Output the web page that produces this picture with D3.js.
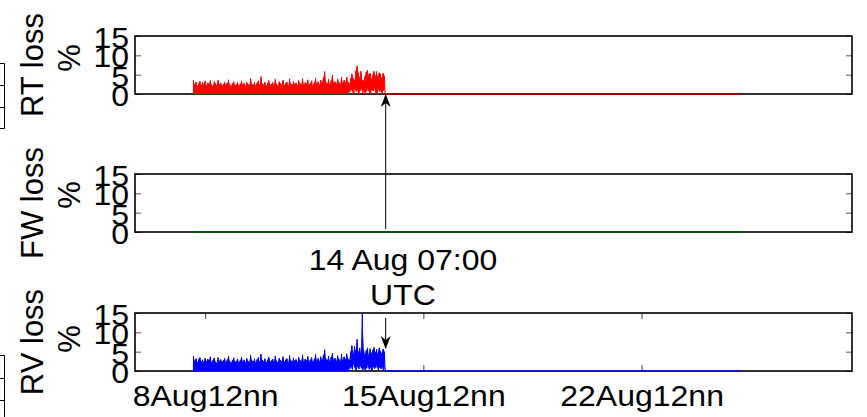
<!DOCTYPE html>
<html>
<head>
<meta charset="utf-8">
<script src="https://cdn.jsdelivr.net/npm/d3@7"></script>
<style>
  body { margin: 0; background: #fff; }
  svg { display: block; font-family: "Liberation Sans", Arial, Helvetica, sans-serif; }
</style>
</head>
<body>
<svg id="chart" width="867" height="417"></svg>
<script>
// hourly samples starting 8 Aug 03:00 UTC, peak (hi) and trough (lo) of each hour, in %
const rtHi = [
  3.6,2.4,3.1,2.0,2.8,3.3,2.2,3.0,2.5,3.4,
  2.1,2.9,2.6,3.5,2.3,2.0,3.2,2.7,2.2,3.6,
  2.4,2.9,2.1,2.6,3.1,2.3,2.8,3.7,2.4,2.0,
  2.7,3.2,2.2,2.5,3.0,2.1,2.6,3.4,2.3,2.8,
  2.0,3.1,2.5,2.2,4.0,2.6,2.3,3.0,2.1,2.9,
  3.4,2.2,4.5,2.7,2.4,3.1,2.0,2.8,3.5,2.3,
  2.6,3.0,2.2,3.8,2.5,2.1,3.2,2.7,2.4,3.6,
  2.2,2.8,3.1,2.0,3.9,2.6,2.3,3.3,2.5,2.9,
  2.1,3.5,2.7,2.4,4.0,2.2,3.0,2.6,3.7,2.3,
  2.8,3.4,2.1,2.9,4.1,2.5,3.2,2.4,3.6,2.7,
  4.2,5.8,3.1,2.6,3.8,2.3,3.5,4.9,2.8,3.2,
  2.5,3.9,3.0,2.4,4.3,2.7,3.6,2.9,4.4,3.1,
  2.6,4.0,5.2,4.1,3.4,6.0,7.3,5.5,4.2,5.9,
  3.6,3.4,4.5,5.7,6.1,4.8,5.4,3.9,5.0,5.9,
  4.6,5.8,4.3,5.5,5.2,4.0,5.4,4.7
];
const rtLo = [
  0,0,0,0,0,0,0,0,0,0, 0,0,0,0,0,0,0,0,0,0,
  0,0,0,0,0,0,0,0,0,0, 0,0,0,0,0,0,0,0,0,0,
  0,0,0,0,0,0,0,0,0,0, 0,0,0,0,0,0,0,0,0,0,
  0,0,0,0,0,0,0,0,0,0, 0,0,0,0,0,0,0,0,0,0,
  0,0,0,0,0,0,0,0,0,0, 0,0,0,0,0,0,0,0,0,0,
  0,0,0,0,0,0,0,0,0,0, 0,0,0,0,0,0,0,0,0,0,
  0.5,1.2,0.8,0,1.5,0.6,1.1,0,0.9,1.4,
  0.3,1.0,0,0.7,1.3,0.5,0,1.1,0.8,1.6,
  0.4,0,1.2,0.6,0.9,0,1.0,0.5
];
const rvHi = [
  3.8,2.6,3.2,2.2,3.0,3.5,2.4,2.9,2.3,3.3,
  2.5,3.1,2.7,3.7,2.2,2.8,3.4,2.4,2.1,3.5,
  2.6,3.0,2.3,2.7,3.3,2.2,2.9,3.8,2.5,2.1,
  2.8,3.4,2.3,2.6,3.1,2.2,2.7,3.6,2.4,2.9,
  2.2,3.3,2.6,2.3,4.1,2.7,2.4,3.2,2.2,3.0,
  3.5,2.3,4.4,2.8,2.5,3.2,2.1,2.9,3.6,2.4,
  2.7,3.1,2.3,3.9,2.6,2.2,3.3,2.8,2.5,3.7,
  2.3,2.9,3.2,2.1,4.0,2.7,2.4,3.4,2.6,3.0,
  2.2,3.6,2.8,2.5,4.2,2.3,3.1,2.7,3.8,2.4,
  2.9,3.5,2.2,3.0,4.3,2.6,3.3,2.5,3.7,2.8,
  4.0,5.5,3.2,2.7,3.9,2.4,3.6,4.6,2.9,3.3,
  2.6,4.0,3.1,2.5,4.4,2.8,3.7,3.0,4.5,3.2,
  2.7,5.0,6.6,4.3,6.4,5.1,8.2,4.8,6.0,4.4,
  15.0,5.5,4.2,5.3,6.0,3.9,5.8,4.6,5.4,6.1,
  4.8,5.6,4.4,6.0,5.2,4.5,5.7,5.0
];
const rvLo = [
  0,0,0,0,0,0,0,0,0,0, 0,0,0,0,0,0,0,0,0,0,
  0,0,0,0,0,0,0,0,0,0, 0,0,0,0,0,0,0,0,0,0,
  0,0,0,0,0,0,0,0,0,0, 0,0,0,0,0,0,0,0,0,0,
  0,0,0,0,0,0,0,0,0,0, 0,0,0,0,0,0,0,0,0,0,
  0,0,0,0,0,0,0,0,0,0, 0,0,0,0,0,0,0,0,0,0,
  0,0,0,0,0,0,0,0,0,0, 0,0,0,0,0,0,0,0,0,0,
  0.6,1.3,0.4,1.8,0.9,0,1.2,0.5,1.5,0.8,
  0.3,1.1,0,0.7,1.6,0.4,1.0,0,1.3,0.6,
  0.9,1.7,0.2,1.0,0.5,1.4,0,0.8
];
// FW loss stays at 0 over the whole record
const fwLoss = [[Date.UTC(2013,7,8,3), 0], [Date.UTC(2013,7,25,18), 0]];

const sampleStart = Date.UTC(2013,7,8,3);
const cutoff = Date.UTC(2013,7,14,7);     // 14 Aug 07:00 UTC
const tailEnd = Date.UTC(2013,7,25,17);   // zero-loss samples after cutoff
const xDomain = [Date.UTC(2013,7,6,6), Date.UTC(2013,7,29,6)];
const xTickDates = [Date.UTC(2013,7,8,12), Date.UTC(2013,7,15,12), Date.UTC(2013,7,22,12)];
const xTickLabels = ["8Aug12nn", "15Aug12nn", "22Aug12nn"];
const yTicks = [0, 5, 10, 15];
const annotation = ["14 Aug 07:00", "UTC"];

const svg = d3.select("#chart");
const left = 135, right = 852, ph = 58;
const HOUR = 3600e3;

const x = d3.scaleUtc().domain(xDomain).range([left, right]);

function samples(hi, lo) {
  return hi.map((v, i) => ({ t: sampleStart + i * HOUR, hi: v, lo: lo[i] }));
}
function zigzag(s) {
  const pts = [[sampleStart, 0]];
  s.forEach(d => { pts.push([d.t, d.hi]); pts.push([d.t + HOUR / 2, d.lo]); });
  pts.push([cutoff, 0]);
  return pts;
}

const panels = [
  { name: "RT loss", top: 36, s: samples(rtHi, rtLo), color: "#ff0000", tail: "#980000", pctShift: -7 },
  { name: "FW loss", top: 174, s: null, color: "#006400", tail: "#0b560b", pctShift: -8 },
  { name: "RV loss", top: 313, s: samples(rvHi, rvLo), color: "#0000ff", tail: "#1515c8", pctShift: -3, xAxis: true }
];

panels.forEach(p => {
  const y = d3.scaleLinear().domain([0, 15]).range([p.top + ph, p.top]);
  const g = svg.append("g");

  // y ticks both sides, pointing inwards
  const ya = g.append("g").attr("transform", `translate(${left},0)`)
    .call(d3.axisLeft(y).tickValues(yTicks).tickSizeInner(-6).tickSizeOuter(0).tickPadding(6));
  ya.select(".domain").remove();
  ya.selectAll("line").attr("stroke", "#555");
  ya.selectAll("text")
    .attr("font-size", 32).attr("fill", "#000").attr("font-family", null)
    .attr("dy", null)
    .attr("transform", "translate(0,11.5) scale(1,0.9)");

  const yr = g.append("g").attr("transform", `translate(${right},0)`)
    .call(d3.axisRight(y).tickValues(yTicks).tickSizeInner(-6).tickSizeOuter(0).tickFormat(""));
  yr.select(".domain").remove();
  yr.selectAll("line").attr("stroke", "#555");

  if (p.xAxis) {
    const xb = g.append("g").attr("transform", `translate(0,${p.top + ph})`)
      .call(d3.axisBottom(x).tickValues(xTickDates).tickSizeInner(-6).tickSizeOuter(0)
        .tickFormat((d, i) => xTickLabels[i]));
    xb.select(".domain").remove();
    xb.selectAll("line").attr("stroke", "#444");
    xb.selectAll("text")
      .attr("font-size", 32).attr("fill", "#000").attr("font-family", null)
      .attr("y", 0).attr("dy", null)
      .attr("transform", "translate(0,35) scale(1,0.9)");
    const xt = g.append("g").attr("transform", `translate(0,${p.top})`)
      .call(d3.axisTop(x).tickValues(xTickDates).tickSizeInner(-6).tickSizeOuter(0).tickFormat(""));
    xt.select(".domain").remove();
    xt.selectAll("line").attr("stroke", "#444");
  }

  // box
  g.append("rect")
    .attr("x", left).attr("y", p.top)
    .attr("width", right - left).attr("height", ph)
    .attr("fill", "none").attr("stroke", "#000").attr("stroke-width", 1.6);

  const line = d3.line().x(d => x(d[0])).y(d => y(d[1]));

  if (p.s) {
    g.append("path").datum([[cutoff, 0], [tailEnd, 0]])
      .attr("d", line).attr("fill", "none")
      .attr("stroke", p.tail).attr("stroke-width", 2);
    // dense band between hourly troughs and peaks
    const band = d3.area().x(d => x(d.t)).y0(d => y(d.lo)).y1(d => y(d.hi));
    g.append("path").datum(p.s)
      .attr("d", band).attr("fill", p.color).attr("stroke", "none");
    g.append("path").datum(zigzag(p.s))
      .attr("d", line).attr("fill", "none")
      .attr("stroke", p.color).attr("stroke-width", 1);
  } else {
    g.append("path").datum(fwLoss)
      .attr("d", line).attr("fill", "none")
      .attr("stroke", p.tail).attr("stroke-width", 2.2);
  }

  // y label, two lines
  const cy = p.top + ph / 2;
  g.append("text")
    .attr("transform", `translate(43,${cy}) rotate(-90)`)
    .attr("text-anchor", "middle").attr("font-size", 31)
    .text(p.name);
  g.append("text")
    .attr("transform", `translate(80,${cy + p.pctShift}) rotate(-90)`)
    .attr("text-anchor", "middle").attr("font-size", 31)
    .text("%");
});

// annotation arrows at the cutoff
const ax = x(cutoff);
function arrowHead(tipY, dir) {
  // dir = -1 points up, 1 points down
  const back = tipY - dir * 13, notch = tipY - dir * 9;
  return `M${ax},${tipY}L${ax - 5},${back}L${ax},${notch}L${ax + 5},${back}Z`;
}
svg.append("line").attr("x1", ax).attr("x2", ax).attr("y1", 229).attr("y2", 100)
  .attr("stroke", "#000").attr("stroke-width", 1);
svg.append("path").attr("d", arrowHead(94, -1)).attr("fill", "#000");
svg.append("line").attr("x1", ax).attr("x2", ax).attr("y1", 318).attr("y2", 342)
  .attr("stroke", "#000").attr("stroke-width", 1);
svg.append("path").attr("d", arrowHead(349, 1)).attr("fill", "#000");

annotation.forEach((t, i) => {
  svg.append("text")
    .attr("transform", `translate(403,${270 + i * 35}) scale(1,0.93)`)
    .attr("text-anchor", "middle").attr("font-size", 32)
    .text(t);
});

// clipped edge of a neighbouring table at the left border
const edge = svg.append("g").attr("stroke", "#000").attr("stroke-width", 1).attr("fill", "none");
edge.append("path").attr("d", "M0,63.5H4.5V128.5H0M0,85.5H4.5M0,107.5H4.5");
edge.append("path").attr("d", "M0,355.5H4.5V417M0,378.5H4.5M0,400.5H4.5");
</script>
</body>
</html>
